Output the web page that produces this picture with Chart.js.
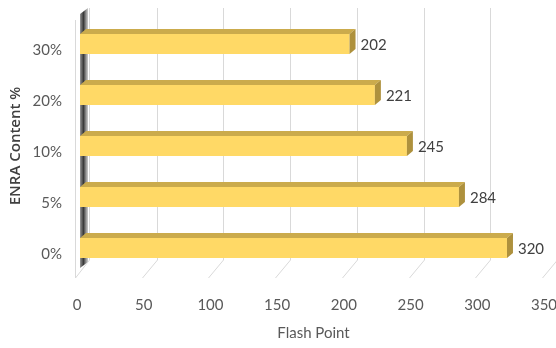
<!DOCTYPE html>
<html>
<head>
<meta charset="utf-8">
<script src="https://cdn.jsdelivr.net/npm/chart.js@4"></script>
<style>
    html, body { margin: 0; padding: 0; background: #fff; }
    #wrap { width: 556px; height: 348px; }
</style>
</head>
<body>
<div id="wrap"><canvas id="flashChart" width="556" height="348"></canvas></div>
<script>
const contentLabels = ['30%', '20%', '10%', '5%', '0%'];
const flashPoints = [202, 221, 245, 284, 320];
const xTicks = [0, 50, 100, 150, 200, 250, 300, 350];

document.addEventListener('DOMContentLoaded', function() {
    const ctx = document.getElementById('flashChart').getContext('2d');

    // back grid + left wall (fake 3d like excel)
    const backdrop = {
        id: 'backdrop',
        beforeDatasetsDraw(chart) {
            const c = chart.ctx;
            const xs = chart.scales.x;
            c.save();
            c.strokeStyle = '#d9d9d9';
            c.lineWidth = 1;
            xTicks.forEach(v => {
                if (v === 0) return;
                const px = Math.round(xs.getPixelForValue(v)) + 0.5;
                c.beginPath();
                c.moveTo(px + 10, 8);
                c.lineTo(px + 10, 260);
                c.lineTo(px - 5, 278);
                c.stroke();
            });
            // wall
            const x0 = xs.getPixelForValue(0);
            const g = c.createLinearGradient(x0 - 2, 0, x0 + 9, 0);
            g.addColorStop(0, '#f2f2f2');
            g.addColorStop(0.25, '#7f7f7f');
            g.addColorStop(0.5, '#3a3a3a');
            g.addColorStop(0.75, '#9a9a9a');
            g.addColorStop(1, '#e8e8e8');
            c.fillStyle = g;
            c.beginPath();
            c.moveTo(x0, 14);
            c.lineTo(x0 + 8, 8);
            c.lineTo(x0 + 8, 262);
            c.lineTo(x0, 268);
            c.closePath();
            c.fill();
            c.beginPath();
            c.moveTo(x0 - 4.5, 20);
            c.lineTo(x0 - 4.5, 278);
            c.moveTo(x0 + 9.5, 8);
            c.lineTo(x0 + 9.5, 260);
            c.lineTo(x0 - 4.5, 278);
            c.stroke();
            c.restore();
        },
        afterDatasetsDraw(chart) {
            const c = chart.ctx;
            const meta = chart.getDatasetMeta(0);
            const dx = 6, dy = 5;
            c.save();
            meta.data.forEach((bar, i) => {
                const p = bar.getProps(['x', 'y', 'base', 'height'], true);
                const top = p.y - p.height / 2;
                const bottom = p.y + p.height / 2;
                c.fillStyle = '#cbab4c';
                c.beginPath();
                c.moveTo(p.base, top);
                c.lineTo(p.base + dx, top - dy);
                c.lineTo(p.x + dx, top - dy);
                c.lineTo(p.x, top);
                c.closePath();
                c.fill();
                c.fillStyle = '#ae913d';
                c.beginPath();
                c.moveTo(p.x, top);
                c.lineTo(p.x + dx, top - dy);
                c.lineTo(p.x + dx, bottom - dy);
                c.lineTo(p.x, bottom);
                c.closePath();
                c.fill();
                c.fillStyle = '#404040';
                c.font = '15px Lato';
                c.textAlign = 'left';
                c.textBaseline = 'middle';
                c.fillText(String(flashPoints[i]), p.x + 11, p.y + 1);
            });
            c.restore();
        }
    };

    new Chart(ctx, {
        type: 'bar',
        data: {
            labels: contentLabels,
            datasets: [{
                data: flashPoints,
                backgroundColor: '#ffd966',
                borderWidth: 0,
                barPercentage: 0.39,
                categoryPercentage: 1
            }]
        },
        options: {
            indexAxis: 'y',
            responsive: false,
            animation: false,
            layout: { padding: { top: 18.5, right: 9, left: 0, bottom: 0 } },
            plugins: {
                legend: { display: false },
                tooltip: { enabled: false }
            },
            scales: {
                x: {
                    min: 0,
                    max: 350,
                    afterBuildTicks: scale => { scale.ticks = xTicks.map(v => ({ value: v })); },
                    grid: { display: false, drawTicks: false },
                    border: { display: false },
                    ticks: {
                        color: '#595959',
                        font: { family: 'Lato', size: 15 },
                        padding: 23,
                        labelOffset: -3
                    },
                    title: {
                        display: true,
                        text: 'Flash Point',
                        color: '#595959',
                        font: { family: 'Lato', size: 15 },
                        padding: { top: 4, bottom: 6 }
                    },
                    afterFit: scale => {
                        scale.height = 74.5;
                        scale.paddingLeft = 0;
                        scale.paddingRight = 0;
                    }
                },
                y: {
                    grid: { display: false, drawTicks: false },
                    border: { display: false },
                    ticks: {
                        color: '#595959',
                        font: { family: 'Lato', size: 15 },
                        padding: 18,
                        labelOffset: 6
                    },
                    title: {
                        display: true,
                        text: 'ENRA Content %',
                        color: '#404040',
                        font: { family: 'Open Sans', size: 15, weight: 600 },
                        padding: { top: 7, bottom: 0 }
                    },
                    afterFit: scale => {
                        scale.width = 80;
                        scale.paddingTop = 0;
                        scale.paddingBottom = 0;
                    }
                }
            }
        },
        plugins: [backdrop]
    });
});
</script>
</body>
</html>
